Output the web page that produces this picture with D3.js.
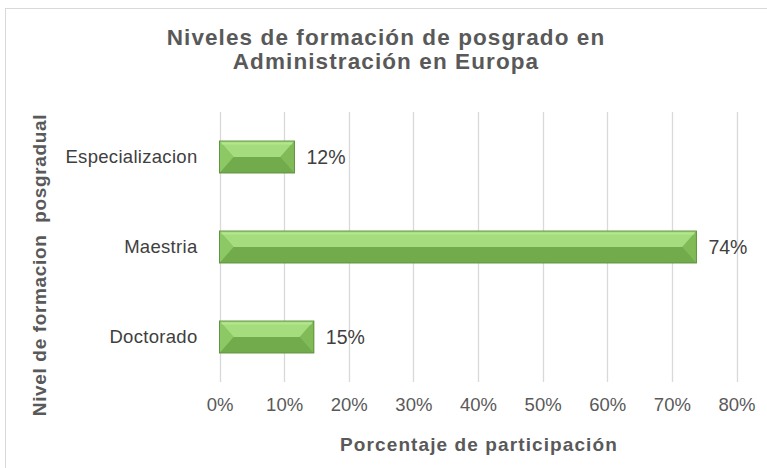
<!DOCTYPE html>
<html lang="es">
<head>
<meta charset="utf-8">
<title>Niveles de formación de posgrado</title>
<style>
  body { margin: 0; background: #fff; }
  svg { display: block; font-family: "Liberation Sans", Arial, sans-serif; }
</style>
</head>
<body>
<svg width="767" height="468"></svg>
<script src="https://cdn.jsdelivr.net/npm/d3@7"></script>
<script>
const categories = ["Especializacion", "Maestria", "Doctorado"]
const values = [0.116, 0.738, 0.146]
const ticks = [0, 0.1, 0.2, 0.3, 0.4, 0.5, 0.6, 0.7, 0.8]

const svg = d3.select("svg"),
      width = 767, height = 468,
      margin = {top: 112, right: 30.5, bottom: 86, left: 219.5}

const x = d3.scaleLinear().domain([0, 0.8]).range([margin.left, width - margin.right]),
      y = d3.scaleBand().domain(categories).range([margin.top, height - margin.bottom]).paddingInner(0.645).paddingOuter(0.3225)

const grey = "#595959"

// chart border
svg.append("rect")
  .attr("x", 5.5).attr("y", 8.5)
  .attr("width", width).attr("height", height)
  .attr("fill", "none").attr("stroke", "#d9d9d9")

// gridlines
svg.append("g").selectAll("line")
  .data(ticks)
  .join("line")
    .attr("x1", d => Math.round(x(d)) + 0.5).attr("x2", d => Math.round(x(d)) + 0.5)
    .attr("y1", margin.top).attr("y2", height - margin.bottom)
    .attr("stroke", "#d9d9d9").attr("stroke-width", 1.3)

// x axis tick labels
const xAxis = svg.append("g")
  .attr("transform", `translate(0,${height - margin.bottom})`)
  .call(d3.axisBottom(x).tickValues(ticks).tickFormat(d3.format(".0%")).tickSize(0).tickPadding(18))
xAxis.select(".domain").remove()
xAxis.selectAll("text").attr("fill", grey).style("font-size", "18.5px").attr("dy", "0.6em")

// y axis labels
const yAxis = svg.append("g")
  .attr("transform", `translate(${margin.left},0)`)
  .call(d3.axisLeft(y).tickSize(0).tickPadding(22))
yAxis.select(".domain").remove()
yAxis.selectAll("text").attr("fill", "#404040").style("font-size", "18.5px").style("letter-spacing", "0.3px")

// bevelled bars
const bev = 14
const bars = svg.append("g").selectAll("g")
  .data(categories.map((c, i) => ({cat: c, v: values[i]})))
  .join("g")
    .attr("transform", d => `translate(${x(0)},${y(d.cat)})`)

const h = y.bandwidth()
const poly = pts => pts.map(p => p.join(",")).join(" ")

bars.append("rect")
  .attr("width", d => x(d.v) - x(0)).attr("height", h)
  .attr("fill", "#7ab652")
bars.append("polygon")   // top face
  .attr("points", d => { const w = x(d.v) - x(0); return poly([[0,0],[w,0],[w-bev,h/2],[bev,h/2]]) })
  .attr("fill", "#a5dc7e")
bars.append("polygon")   // bottom face
  .attr("points", d => { const w = x(d.v) - x(0); return poly([[0,h],[w,h],[w-bev,h/2],[bev,h/2]]) })
  .attr("fill", "#72ab4b")
bars.append("polygon")   // left face
  .attr("points", poly([[0,0],[bev,h/2],[0,h]]))
  .attr("fill", "#8cc863")
bars.append("polygon")   // right face
  .attr("points", d => { const w = x(d.v) - x(0); return poly([[w,0],[w-bev,h/2],[w,h]]) })
  .attr("fill", "#80bb57")
bars.append("rect")      // top highlight
  .attr("x", 2).attr("y", 1.5)
  .attr("width", d => Math.max(0, x(d.v) - x(0) - 4)).attr("height", 2)
  .attr("fill", "#b5ea8e").attr("opacity", 0.8)
bars.append("rect")      // outline
  .attr("width", d => x(d.v) - x(0)).attr("height", h)
  .attr("fill", "none").attr("stroke", "#5f9440").attr("stroke-width", 1)

bars.append("text")
  .attr("x", d => x(d.v) - x(0) + 12)
  .attr("y", h / 2)
  .attr("dy", "0.36em")
  .attr("fill", "#404040")
  .style("font-size", "19.5px")
  .text(d => d3.format(".0%")(d.v))

// title
svg.append("text")
  .attr("x", 386).attr("text-anchor", "middle")
  .attr("fill", grey)
  .style("font-size", "22.5px").style("font-weight", 700).style("letter-spacing", "1.1px")
  .selectAll("tspan")
  .data(["Niveles de formación de posgrado en", "Administración en Europa"])
  .join("tspan")
    .attr("x", 386)
    .attr("y", (d, i) => 45 + i * 23.5)
    .text(d => d)

// axis titles
svg.append("text")
  .attr("x", 479).attr("y", 451).attr("text-anchor", "middle")
  .attr("fill", grey)
  .style("font-size", "19px").style("font-weight", 700).style("letter-spacing", "1.1px")
  .text("Porcentaje de participación")

svg.append("text")
  .attr("transform", "translate(46,265) rotate(-90)")
  .attr("text-anchor", "middle")
  .attr("fill", grey)
  .style("font-size", "19px").style("font-weight", 700).style("letter-spacing", "0.65px")
  .style("white-space", "pre")
  .text("Nivel de formacion\u00a0 posgradual")
</script>
</body>
</html>
